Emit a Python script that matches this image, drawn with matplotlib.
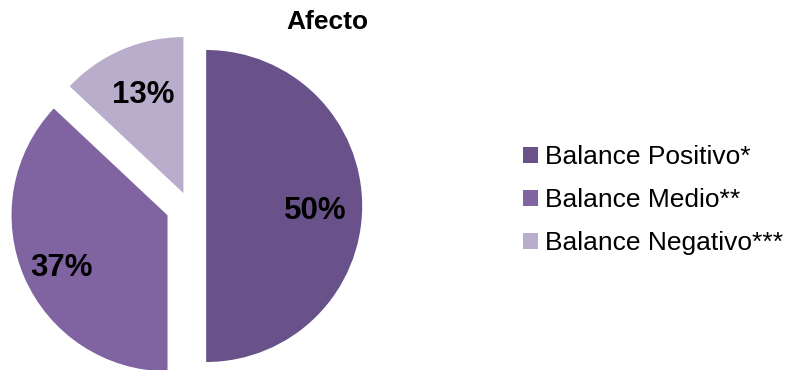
import matplotlib.pyplot as plt

labels = ['Balance Positivo*', 'Balance Medio**', 'Balance Negativo***']
values = [50, 37, 13]
pct_text = ['50%', '37%', '13%']
colors = ['#69518A', '#8064A2', '#B9ADCC']
explode = [0.11, 0.15, 0.09]

plt.rcParams['font.family'] = ['Liberation Sans', 'DejaVu Sans']

fig = plt.figure(figsize=(7.85, 3.70), dpi=100)
ax = fig.add_axes([0, 0, 1, 1])
ax.axis('off')

wedges, _ = ax.pie(values, colors=colors, explode=explode, startangle=90,
                   counterclock=False, radius=1.0, center=(0, 0),
                   wedgeprops=dict(linewidth=0))

# 1 unit = 156 px, centre at (189, 206) from top-left
s = 156.0
ax.set_xlim(-189 / s, (785 - 189) / s)
ax.set_ylim(-(370 - 206) / s, 206 / s)
ax.set_aspect('auto')

# percentage labels
pos = [(315, 211), (62, 268), (143, 95)]
for (px, py), t in zip(pos, pct_text):
    ax.text((px - 189) / s, (206 - py) / s, t, ha='center', va='center',
            fontsize=22.5, fontweight='bold', color='black')

fig.text(327 / 785, 1 - 22 / 370, 'Afecto', ha='center', va='center',
         fontsize=19, fontweight='bold')

leg = fig.legend(wedges, labels, loc='center left',
                 bbox_to_anchor=(523 / 785, 1 - 200 / 370),
                 frameon=False, fontsize=19, handlelength=0.55,
                 handleheight=0.55, handletextpad=0.3, labelspacing=0.72,
                 borderpad=0, borderaxespad=0)

fig.savefig('out.png', dpi=100)
